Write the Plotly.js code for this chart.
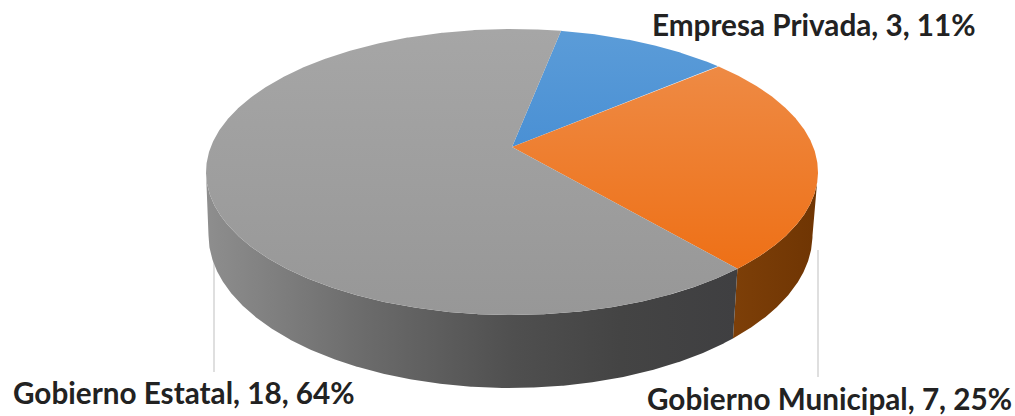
<!DOCTYPE html>
<html>
<head>
<meta charset="utf-8">
<script src="https://cdn.plot.ly/plotly-3.0.1.min.js"></script>
<style>html,body{margin:0;padding:0;background:#fff}#chart{width:1015px;height:416px}</style>
</head>
<body>
<div id="chart"></div>
<script>
// Institution types and how many fall in each
const categories = ['Empresa Privada', 'Gobierno Municipal', 'Gobierno Estatal'];
const counts = [3, 7, 18];
const faceTop = ['#5b9cd8', '#ee8a44', '#a6a6a6'];
const faceBottom = ['#4a90d4', '#ee7016', '#979797'];
const wallLeft = ['#3a5f85', '#7d3f08', '#8e8e8e'];
const wallRight = ['#3a5f85', '#6f3503', '#3f3f41'];

// Disc geometry in pixel-scaled axes: upper face ellipse, lower rim ellipse, perspective shift of the hub
const cx = 512, cy = 172, rx = 306, ry = 143;
const baseCx = 510.5, baseCy = 235, baseRx = 302, baseRy = 153;
const hubShift = 0.175;
const firstAngle = 79; // degrees, measured counter-clockwise from +x; slices run clockwise

const total = counts.reduce((a, b) => a + b, 0);
const k = Math.sqrt(1 - hubShift * hubShift);

function project(u, v) {
  const w = 1 + hubShift * v;
  return [u * k / w, (v + hubShift) / w];
}
function rimPoint(deg) {
  const t = deg * Math.PI / 180;
  const [a, b] = project(Math.cos(t), Math.sin(t));
  return { x: cx + rx * a, y: cy - ry * b,
           bx: baseCx + baseRx * a, by: baseCy - baseRy * b, lower: b <= 0.002 };
}
function sweep(from, to) {
  const pts = [];
  const n = Math.ceil(Math.abs(to - from) * 4);
  for (let i = 0; i <= n; i++) pts.push(rimPoint(from + (to - from) * i / n));
  return pts;
}

const slices = [];
let running = 0;
categories.forEach((name, i) => {
  const a0 = firstAngle - 360 * running / total;
  running += counts[i];
  const a1 = firstAngle - 360 * running / total;
  slices.push({ name, i, rim: sweep(a0, a1) });
});

const traces = [];

// Leader lines run behind the disc
function leader(x, y0, y1) {
  traces.push({ type: 'scatter', mode: 'lines', x: [x, x], y: [y0, y1],
    line: { color: '#d4d4d4', width: 1.5 }, hoverinfo: 'skip' });
}
leader(214, 250, 372);
leader(818, 250, 377);

// Side wall of each slice, only where the rim faces the viewer
slices.forEach(s => {
  const low = s.rim.filter(p => p.lower);
  if (low.length < 2) return;
  const xs = low.map(p => p.x).concat(low.map(p => p.bx).reverse());
  const ys = low.map(p => p.y).concat(low.map(p => p.by).reverse());
  const stops = s.i === 2
    ? [[0, '#8e8e8e'], [0.3, '#6b6b6b'], [0.58, '#4f4f4f'], [0.78, '#444444'], [1, wallRight[s.i]]]
    : [[0, wallLeft[s.i]], [1, wallRight[s.i]]];
  traces.push({ type: 'scatter', mode: 'lines', x: xs, y: ys, fill: 'toself', name: s.name,
    line: { width: 0 }, hoverinfo: 'skip',
    fillgradient: { type: 'horizontal', colorscale: stops } });
});

// Top face of each slice
const hub = project(0, 0);
const hubX = cx + rx * hub[0], hubY = cy - ry * hub[1];
slices.forEach(s => {
  traces.push({ type: 'scatter', mode: 'lines', name: s.name,
    x: [hubX].concat(s.rim.map(p => p.x), [hubX]),
    y: [hubY].concat(s.rim.map(p => p.y), [hubY]),
    fill: 'toself', line: { width: 0 }, hoverinfo: 'skip',
    fillgradient: { type: 'vertical', colorscale: [[0, faceBottom[s.i]], [1, faceTop[s.i]]] } });
});

// Outside labels: name, count, share
const labelPos = [[650, 24], [645, 398], [11, 392]];
const annotations = categories.map((name, i) => ({
  x: labelPos[i][0], y: labelPos[i][1], xref: 'x', yref: 'y',
  xanchor: 'left', yanchor: 'middle', showarrow: false,
  text: `<b>${name}, ${counts[i]}, ${Math.round(100 * counts[i] / total)}%</b>`,
  font: { family: 'Lato, sans-serif', size: 29.7, color: '#222222' }
}));

Plotly.newPlot('chart', traces, {
  width: 1015, height: 416,
  margin: { l: 0, r: 0, t: 0, b: 0 },
  paper_bgcolor: '#ffffff', plot_bgcolor: '#ffffff',
  showlegend: false,
  xaxis: { range: [0, 1015], visible: false, fixedrange: true },
  yaxis: { range: [416, 0], visible: false, fixedrange: true },
  annotations
}, { displayModeBar: false, staticPlot: true });
</script>
</body>
</html>
